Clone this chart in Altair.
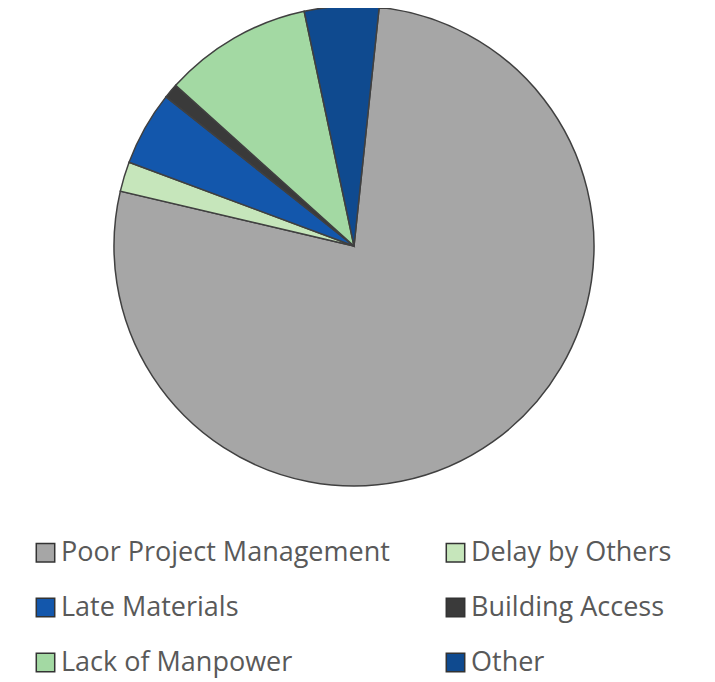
import altair as alt
import pandas as pd

categories = ["Poor Project Management", "Delay by Others", "Late Materials",
              "Building Access", "Lack of Manpower", "Other"]
values = [77, 2, 5, 1, 10, 5]
colors = ["#a6a6a6", "#c6e6bb", "#1357ac", "#3a3a3a", "#a3d9a3", "#0f4a8f"]
# legend reads row by row in two columns; Vega fills column-first
legend_order = ["Poor Project Management", "Late Materials", "Lack of Manpower",
                "Delay by Others", "Building Access", "Other"]

df = pd.DataFrame({"cat": categories, "val": values, "idx": list(range(len(categories)))})

start = 0.105
two_pi = 6.283185307179586

chart = alt.Chart(df).mark_arc(
    radius=240, stroke="#404040", strokeWidth=1.5
).encode(
    theta=alt.Theta("val:Q", stack=True, scale=alt.Scale(range=[start, start + two_pi])),
    order=alt.Order("idx:Q"),
    color=alt.Color(
        "cat:N",
        scale=alt.Scale(domain=categories, range=colors),
        legend=alt.Legend(
            title=None, orient="none", legendX=24, legendY=531,
            values=legend_order,
            columns=2, columnPadding=52, rowPadding=27,
            symbolType="square", symbolSize=340,
            symbolStrokeColor="#333333", symbolStrokeWidth=1.5,
            labelFontSize=27, labelFont="Open Sans", labelColor="#595959",
            labelOffset=2, labelLimit=500, padding=0,
        ),
    ),
    x=alt.value(346),
    y=alt.value(238),
).properties(
    width=699, height=674, autosize=alt.AutoSizeParams(type="none"), padding=0
).configure_view(stroke=None)

chart.save("out.html", embed_options={"renderer": "svg", "actions": False})
